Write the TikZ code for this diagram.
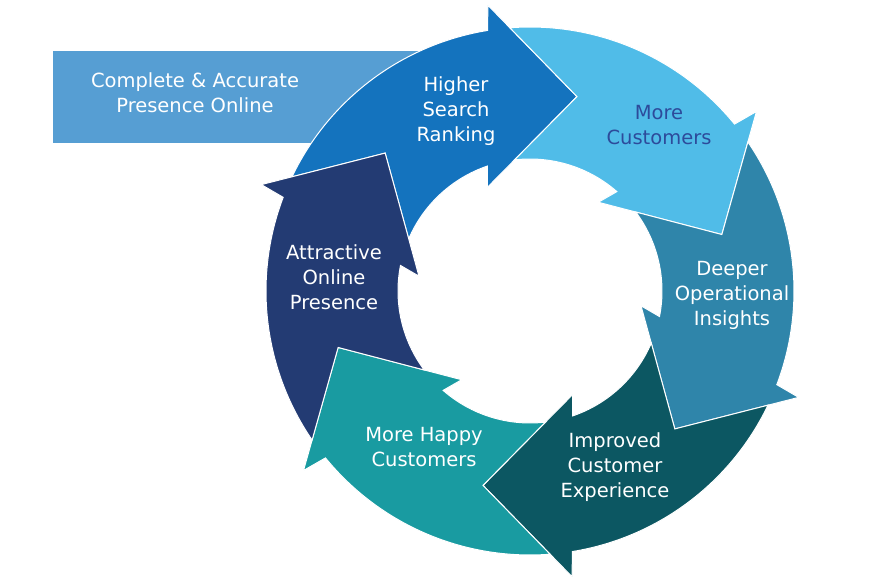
\documentclass[tikz,border=0pt]{standalone}
\usepackage{fontspec}
\setmainfont{DejaVu Sans}
\usepackage{xcolor}
\usepackage{tikz}

\definecolor{boxblue}{RGB}{86,158,211}
\definecolor{rankblue}{RGB}{20,115,190}
\definecolor{custblue}{RGB}{80,188,232}
\definecolor{custtext}{RGB}{45,75,155}
\definecolor{insightblue}{RGB}{47,133,170}
\definecolor{experteal}{RGB}{12,87,98}
\definecolor{happyteal}{RGB}{25,155,161}
\definecolor{presnavy}{RGB}{35,59,115}

\tikzset{
    labelnode/.style = {draw=none, fill=none, rectangle, inner sep=0pt, align=center,
      text=white, font=\fontsize{19.5}{25}\selectfont},
    pics/cyclearrow/.style 2 args = {code={
      \fill[fill=#1, draw=white, line width=1pt]
        ({#2+55.97}:264pt) arc[start angle=#2+55.97, end angle=#2+0.82, radius=264pt]
        -- (#2:289pt) -- ({#2-22}:200pt) -- ({#2+14}:112pt) -- ({#2+10.45}:132pt)
        arc[start angle=#2+10.45, end angle=#2+58.35, radius=132pt]
        -- ({#2+38}:200pt) -- cycle;
    }}
}

\begin{document}
\begin{tikzpicture}[x=1pt, y=1pt]
    \useasboundingbox (-530,-289) rectangle (346,291);

    \fill[boxblue] (-477,240) rectangle (-45,148);
    \node [name=accurate, labelnode] at (-335,198) {Complete \& Accurate\\Presence Online};

    \pic (ranking) {cyclearrow={rankblue}{98.4}};
    \pic (customers) {cyclearrow={custblue}{38.4}};
    \pic (insights) {cyclearrow={insightblue}{-21.6}};
    \pic (experience) {cyclearrow={experteal}{-81.6}};
    \pic (happy) {cyclearrow={happyteal}{-141.6}};
    \pic (presence) {cyclearrow={presnavy}{158.4}};

    \node [name=rank, labelnode] at (-74,180) {Higher\\Search\\Ranking};
    \node [name=cust, labelnode, text=custtext] at (129,166) {More\\Customers};
    \node [name=insight, labelnode] at (202,-4) {Deeper\\Operational\\Insights};
    \node [name=exper, labelnode] at (85,-176) {Improved\\Customer\\Experience};
    \node [name=happ, labelnode] at (-106,-156) {More Happy\\Customers};
    \node [name=pres, labelnode] at (-196,14) {Attractive\\Online\\Presence};
\end{tikzpicture}
\end{document}
